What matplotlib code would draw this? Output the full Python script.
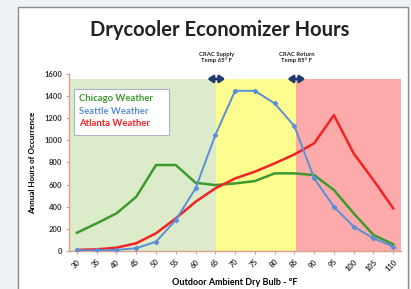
import matplotlib
matplotlib.use("Agg")
import matplotlib.pyplot as plt
from matplotlib.patches import Rectangle

# bins of outdoor dry bulb temperature (deg F)
temps = ["30", "35", "40", "45", "50", "55", "60", "65", "70",
         "75", "80", "85", "90", "95", "100", "105", "110"]
chicago = [165, 250, 340, 490, 777, 777, 617, 596, 611, 632, 702, 702, 686, 551, 340, 145, 60]
seattle = [5, 5, 10, 25, 84, 280, 566, 1048, 1448, 1448, 1334, 1129, 656, 400, 220, 115, 39]
atlanta = [10, 15, 30, 70, 160, 295, 445, 566, 656, 717, 792, 873, 973, 1228, 882, 641, 386]
series_names = ["Chicago Weather", "Seattle Weather", "Atlanta Weather"]
colors = ["#3c9a2f", "#5b8fd8", "#f02424"]

plt.rcParams["font.family"] = ["Lato", "DejaVu Sans"]

fig = plt.figure(figsize=(4.11, 2.89), dpi=100)
fig.patch.set_facecolor("#eef2f7")
# white card behind the chart
fig.patches.append(Rectangle((18 / 411, -0.05), 390 / 411, 1.05 - 7 / 289,
                             transform=fig.transFigure, facecolor="white",
                             edgecolor="#8a8a8a", linewidth=1.0, zorder=-10))

ax = fig.add_axes([0.168, 0.1315, 0.808, 0.6125])
ax.set_zorder(2)
ax.set_facecolor("white")

x = list(range(len(temps)))
band_top = 1555 / 1600
ax.axvspan(-0.4, 7.05, ymax=band_top, color="#dcebc9", lw=0, zorder=0)
ax.axvspan(7.05, 11.1, ymax=band_top, color="#fdfc8e", lw=0, zorder=0)
ax.axvspan(11.1, 16.4, ymax=band_top, color="#fdaaaa", lw=0, zorder=0)

ax.plot(x, chicago, color=colors[0], lw=1.8, zorder=3)
ax.plot(x, atlanta, color=colors[2], lw=1.8, zorder=3)
ax.plot(x, seattle, color=colors[1], lw=1.4, marker="D", ms=2.2, zorder=4)

ax.set_xlim(-0.4, 16.4)
ax.set_ylim(0, 1600)
ax.set_yticks(range(0, 1601, 200))
ax.set_xticks(x)
ax.set_xticklabels(temps, rotation=45, ha="right", rotation_mode="anchor")
ax.tick_params(axis="both", labelsize=5.5, length=2, color="#d9a08c", pad=3,
               labelcolor="#333333")
for lbl in ax.get_xticklabels() + ax.get_yticklabels():
    lbl.set_fontweight("bold")

for side in ["top", "right"]:
    ax.spines[side].set_visible(False)
for side in ["left", "bottom"]:
    ax.spines[side].set_color("#d9a08c")
    ax.spines[side].set_linewidth(1.0)

ax.set_ylabel("Annual Hours of Occurrence", fontsize=5.8, fontweight="bold", labelpad=6)
ax.set_xlabel("Outdoor Ambient Dry Bulb - °F", fontsize=6.5, fontweight="bold", labelpad=4)

# legend: colored text only
leg_box = Rectangle((0.015, 0.655), 0.285, 0.26, transform=ax.transAxes,
                    facecolor="white", edgecolor="#aab4c8", lw=0.8, zorder=5)
ax.add_patch(leg_box)
for i, (name, c) in enumerate(zip(series_names, colors)):
    ax.text(0.03, 0.862 - i * 0.072, name, transform=ax.transAxes, color=c,
            fontsize=6.8, fontweight="bold", va="center", zorder=6)

# CRAC markers
for xpos, txt in [(7.05, "CRAC Supply\nTemp 65° F"), (11.1, "CRAC Return\nTemp 85° F")]:
    ax.annotate("", xy=(xpos - 0.45, 1555), xytext=(xpos + 0.45, 1555),
                arrowprops=dict(arrowstyle="<|-|>,head_length=0.5,head_width=0.35",
                                color="#1f3a6e", lw=2.0, mutation_scale=6,
                                shrinkA=0, shrinkB=0),
                annotation_clip=False, zorder=6)
    ax.text(xpos, 1700, txt, ha="center", va="bottom", fontsize=4.3,
            fontweight="bold", color="#222222", linespacing=1.1)

fig.text(0.535, 0.895, "Drycooler Economizer Hours", ha="center", va="center",
         fontsize=14.5, fontweight="bold", color="#222222")

fig.savefig("out.png", dpi=100, facecolor=fig.get_facecolor())
